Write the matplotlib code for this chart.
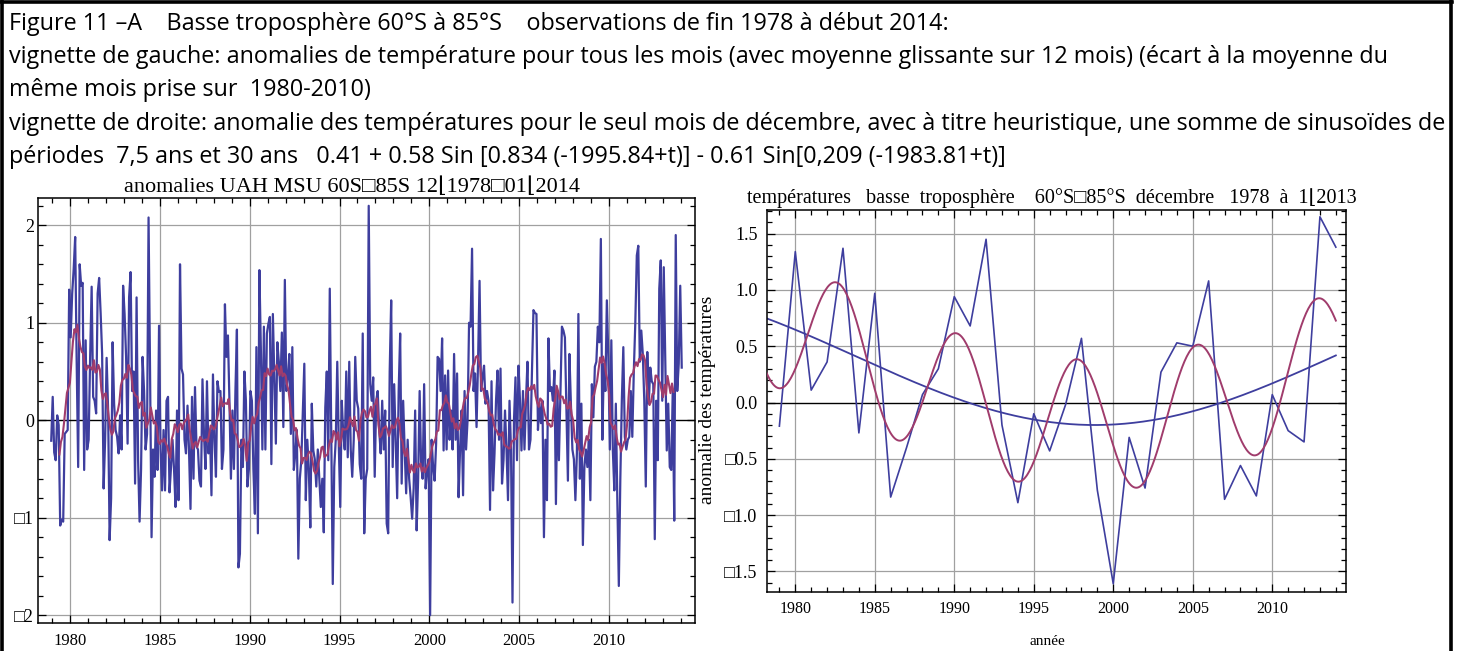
import numpy as np
import matplotlib.pyplot as plt
from matplotlib.ticker import MultipleLocator, FixedLocator
from matplotlib.lines import Line2D

# UAH MSU lower troposphere 60S-85S, monthly anomalies, Dec 1978 .. Jan 2014
monthly_anom = (
    [-0.21]  # 1978 Dec
    + [0.24, -0.33, -0.41, 0.05, -0.05, -1.08, -1.02, -1.04, -0.14, -0.12, -0.10, 1.34]  # 1979
    + [0.85, 1.30, 1.55, 1.88, 0.60, -0.48, 1.60, 1.38, 1.41, -0.51, 0.82, -0.30]  # 1980
    + [-0.20, 0.65, 1.37, 0.24, 0.20, 0.07, 1.30, 1.46, 1.10, 0.68, -0.70, -0.20]  # 1981
    + [0.64, 0.10, -1.23, -0.80, 0.80, 0.17, -0.10, -0.17, -0.34, 0.05, -0.30, 1.38]  # 1982
    + [1.09, 0.65, -0.24, 1.26, 1.52, 0.30, 0.50, -0.65, 1.26, -0.40, -1.04, -0.50]  # 1983
    + [0.65, 0.30, -0.30, -0.14, 2.08, 0.50, -1.20, -0.30, -0.58, 0.10, -0.51, 0.97]  # 1984
    + [-0.30, -0.72, -0.10, -0.72, 0.20, 0.24, -0.74, -0.48, -0.20, -0.50, -0.89, 0.10]  # 1985
    + [-0.82, 1.60, 0.53, 0.47, -0.20, -0.34, 0.15, -0.30, -0.91, 0.24, -0.60, 0.34]  # 1986
    + [-0.27, -0.30, -0.62, -0.68, 0.42, -0.14, -0.50, 0.40, -0.34, -0.10, -0.77, 0.47]  # 1987
    + [-0.20, -0.58, 0.40, 0.29, 0.30, -0.50, -0.30, 1.19, 0.65, 0.87, 0.20, -0.60]  # 1988
    + [0.10, -0.50, 0.30, 0.93, -1.51, -1.37, -0.20, -0.48, 0.50, 0.20, -0.68, -0.50]  # 1989
    + [0.30, 0.20, -0.50, -0.96, 0.75, -1.16, 1.54, 0.72, -0.30, 0.96, -0.30, 0.89]  # 1990
    + [0.99, 1.06, -0.45, 1.09, 0.40, -0.24, 0.80, 0.60, 0.30, 0.90, -0.07, 1.44]  # 1991
    + [0.30, 0.44, 0.68, -0.14, 0.75, -0.51, -0.34, -0.10, -1.42, -0.60, -0.41, 0.10]  # 1992
    + [0.58, -0.82, -0.20, -0.50, -1.10, 0.17, -0.31, -0.40, -0.68, -0.30, -0.60, -0.89]  # 1993
    + [-0.60, -1.15, 0.13, 0.50, -0.41, 1.35, -0.20, -1.68, -0.48, -0.20, 0.60, -0.24]  # 1994
    + [-0.89, 0.20, -0.14, -0.30, 0.50, -0.38, 0.60, -0.30, -0.58, -0.20, 0.65, 0.20]  # 1995
    + [0.12, -0.45, -0.60, 0.89, -1.16, -0.60, -0.50, 2.20, 0.37, 0.20, 0.44, -0.58]  # 1996
    + [0.20, 0.30, -0.10, -0.34, 0.20, -0.30, 0.10, -1.06, -1.16, 0.50, 1.23, -0.48]  # 1997
    + [0.37, -0.20, -0.80, 0.30, 0.89, -0.65, 0.20, -0.30, -0.75, -0.20, -0.60, -0.79]  # 1998
    + [-1.01, -0.70, 0.10, -1.13, -0.60, 0.30, -0.45, -0.60, 0.37, -0.70, -0.50, -0.40]  # 1999
    + [-2.00, -0.20, -0.48, -0.62, -0.24, 0.65, 0.63, 0.30, 0.84, -0.31, 0.46, -0.30]  # 2000
    + [0.51, -0.20, 0.10, -0.30, 0.68, -0.20, 0.48, -0.79, -0.30, 0.10, -0.77, 0.30]  # 2001
    + [-0.30, 0.00, 1.00, 0.96, 1.76, 0.30, 0.48, -0.07, 0.60, 1.43, 0.30, 0.44]  # 2002
    + [0.56, 0.17, 0.30, 0.20, -0.92, 0.40, -0.72, -0.34, 0.20, 0.51, -0.20, 0.53]  # 2003
    + [-0.65, -0.41, 0.10, -0.30, -0.82, 0.20, -0.30, -1.87, 0.00, 0.44, -0.41, 0.56]  # 2004
    + [0.20, -0.31, 0.30, -0.30, 0.20, 0.60, -0.30, -0.20, 0.50, 1.13, 1.10, 1.09]  # 2005
    + [-0.10, 0.17, -0.03, 0.20, -1.20, -0.20, -0.82, 0.84, 0.30, 0.34, 0.20, 0.51]  # 2006
    + [-0.86, 0.30, -0.41, 0.30, 0.96, 0.92, 0.85, 0.10, -0.62, 0.68, 0.17, -0.30]  # 2007
    + [-0.40, -0.82, -0.34, 1.09, -0.60, 0.17, -1.28, -0.48, -0.30, -0.48, -0.20, -0.82]  # 2008
    + [0.37, 0.03, 0.55, 0.60, 0.96, 0.80, 1.86, -0.20, 0.58, 0.30, 1.23, 0.65]  # 2009
    + [-0.30, 0.82, -0.31, -0.72, 0.17, -0.82, -1.70, -0.60, 0.20, 0.75, -0.17, -0.30]  # 2010
    + [-0.20, -0.17, 0.30, -0.17, 0.50, 1.00, 1.69, 1.79, 0.60, 0.92, 0.68, 0.20]  # 2011
    + [-0.68, 0.70, 0.17, 0.54, 0.40, 0.37, -1.22, 0.20, -0.41, 1.35, 1.64, 0.20]  # 2012
    + [1.57, 0.65, -0.31, 0.17, -0.48, -0.51, 0.30, -1.03, 1.90, 0.30, 0.58, 1.38]  # 2013
    + [0.54]  # 2014 Jan
)

# December anomalies 1978..2013, drawn one year later on the time axis
dec_years = list(range(1979, 2015))
dec_anom = [-0.21, 1.34, 0.11, 0.36, 1.37, -0.27, 0.97, -0.84, -0.40, 0.07,
            0.30, 0.94, 0.68, 1.45, -0.20, -0.89, -0.10, -0.43, -0.02, 0.57,
            -0.78, -1.61, -0.31, -0.76, 0.27, 0.53, 0.50, 1.08, -0.86, -0.56,
            -0.83, 0.07, -0.25, -0.35, 1.65, 1.38]

# heuristic fit: offset + fast sine (7.5 yr) - slow sine
fit_offset = 0.41
fast_amp, fast_freq, fast_t0 = 0.58, 0.834, 1995.84
slow_amp, slow_freq, slow_t0 = 0.61, 0.1045, 1983.81

caption_lines = [
    "Figure 11 \u2013A    Basse troposphère 60°S à 85°S    observations de fin 1978 à début 2014:",
    "vignette de gauche: anomalies de température pour tous les mois (avec moyenne glissante sur 12 mois) (écart à la moyenne du",
    "même mois prise sur  1980-2010)",
    "vignette de droite: anomalie des températures pour le seul mois de décembre, avec à titre heuristique, une somme de sinusoïdes de",
    "périodes  7,5 ans et 30 ans   0.41 + 0.58 Sin [0.834 (-1995.84+t)] - 0.61 Sin[0,209 (-1983.81+t)]",
]

BLUE = "#3e3e9e"
RED = "#a03c6c"
GRID = "#a0a0a0"
SERIF = ["Liberation Serif", "DejaVu Serif", "DejaVu Sans"]
W, H = 1461, 651

plt.rcParams["font.family"] = SERIF

fig = plt.figure(figsize=(W / 100, H / 100), dpi=100)


def frame_style(ax, labelsize_x, labelsize_y, pad_x, pad_y):
    for s in ax.spines.values():
        s.set_linewidth(1.1)
        s.set_color("black")
    ax.tick_params(which="both", direction="in", top=True, right=True,
                   color="black", width=0.9)
    ax.tick_params(which="major", length=6)
    ax.tick_params(which="minor", length=3.5)
    ax.tick_params(axis="x", labelsize=labelsize_x, pad=pad_x)
    ax.tick_params(axis="y", labelsize=labelsize_y, pad=pad_y)


def neg_box(vals, fmt):
    return [("\u25a1" + fmt.format(abs(v))) if v < 0 else fmt.format(v) for v in vals]


# caption block
for k, line in enumerate(caption_lines):
    fig.text(9 / W, 1 - (30 + 33.2 * k) / H, line, family=["Open Sans", "DejaVu Sans"],
             fontsize=16.85, va="baseline", ha="left")

# outer border
for xs, ys in [([2, 2], [0, H]), ([0, 1452], [1.5, 1.5]), ([1451, 1451], [0, H])]:
    fig.add_artist(Line2D([x / W for x in xs], [1 - y / H for y in ys],
                          color="black", lw=2.6, transform=fig.transFigure))

# ---- left panel: all months with 12-month moving average
t_month = 1978 + (11.5 + np.arange(len(monthly_anom))) / 12
anom = np.array(monthly_anom)
kern = np.ones(12) / 12
t_roll = np.convolve(t_month, kern, mode="valid")
roll = np.convolve(anom, kern, mode="valid")

axl = fig.add_axes([38.3 / W, 1 - 623 / H, (695 - 38.3) / W, (623 - 198) / H])
axl.set_xlim(1978.24, 2014.78)
axl.set_ylim(-2.08, 2.28)
for gx in range(1980, 2015, 5):
    axl.axvline(gx, color=GRID, lw=0.9, zorder=0)
for gy in [-2, -1, 1, 2]:
    axl.axhline(gy, color=GRID, lw=0.9, zorder=0)
axl.axhline(0, color="black", lw=1.0, zorder=1)
axl.plot(t_month, anom, color=BLUE, lw=1.6, zorder=2)
axl.plot(t_roll, roll, color=RED, lw=1.5, zorder=3)

axl.xaxis.set_major_locator(FixedLocator(range(1980, 2015, 5)))
axl.xaxis.set_minor_locator(MultipleLocator(1))
axl.yaxis.set_major_locator(FixedLocator([-2, -1, 0, 1, 2]))
axl.yaxis.set_minor_locator(MultipleLocator(0.2))
axl.set_yticklabels(neg_box([-2, -1, 0, 1, 2], "{:d}"))
frame_style(axl, 12, 13, 7, 3)

fig.text(352 / W, 1 - 192 / H, "anomalies UAH MSU 60S\u25a185S 12\u230a1978\u25a101\u230a2014",
         fontsize=16, ha="center", va="baseline")

# ---- right panel: December only, with sine fit
axr = fig.add_axes([767.3 / W, 1 - 592.3 / H, (1345.7 - 767.3) / W, (592.3 - 210) / H])
axr.set_xlim(1978.24, 2014.62)
axr.set_ylim(-1.686, 1.71)
for gx in range(1980, 2015, 5):
    axr.axvline(gx, color=GRID, lw=0.9, zorder=0)
for gy in [-1.5, -1.0, -0.5, 0.5, 1.0, 1.5]:
    axr.axhline(gy, color=GRID, lw=0.9, zorder=0)
axr.axhline(0, color="black", lw=1.0, zorder=1)

tt = np.linspace(1978.0, 2014.0, 500)
slow = fit_offset - slow_amp * np.sin(slow_freq * (tt - slow_t0))
full = slow + fast_amp * np.sin(fast_freq * (tt - fast_t0))
axr.plot(dec_years, dec_anom, color=BLUE, lw=1.2, zorder=2)
axr.plot(tt, slow, color=BLUE, lw=1.3, zorder=2)
axr.plot(tt, full, color=RED, lw=1.4, zorder=3)

axr.xaxis.set_major_locator(FixedLocator(range(1980, 2015, 5)))
axr.xaxis.set_minor_locator(MultipleLocator(1))
yt = [-1.5, -1.0, -0.5, 0.0, 0.5, 1.0, 1.5]
axr.yaxis.set_major_locator(FixedLocator(yt))
axr.yaxis.set_minor_locator(MultipleLocator(0.1))
axr.set_yticklabels(neg_box(yt, "{:.1f}"))
frame_style(axr, 11.5, 13, 6.5, 7)

fig.text(1052 / W, 1 - 203 / H,
         "températures   basse  troposphère    60°S\u25a185°S  décembre   1978  à  1\u230a2013",
         fontsize=14.5, ha="center", va="baseline")
fig.text(1047 / W, 1 - 645 / H, "année", fontsize=11, ha="center", va="baseline")
fig.text(707 / W, 1 - 400 / H, "anomalie des températures", fontsize=14,
         rotation=90, ha="center", va="center")

fig.savefig("out.png", dpi=100)
